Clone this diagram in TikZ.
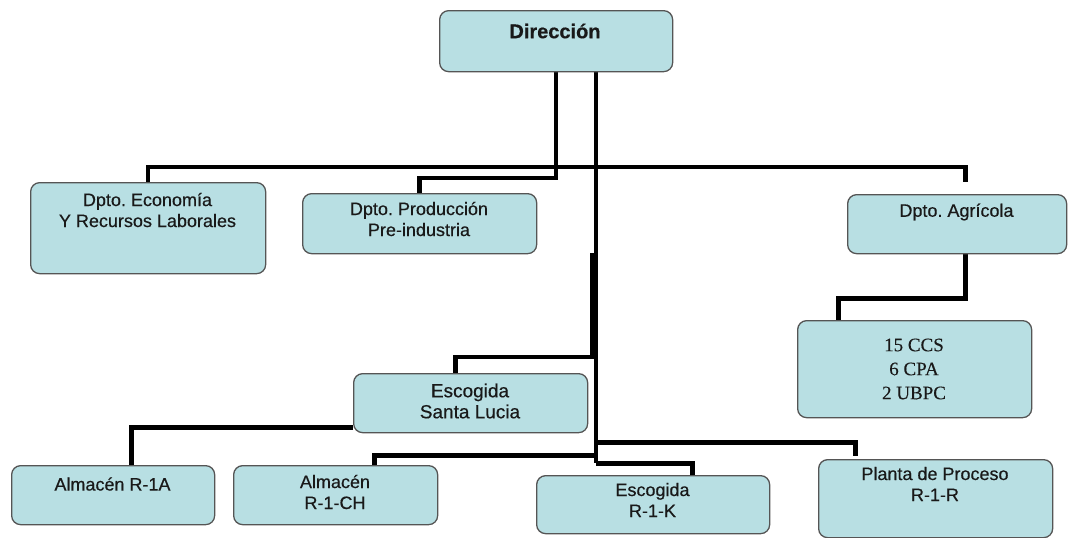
\documentclass[tikz,border=0pt]{standalone}
\usepackage{fontspec}
\setmainfont{Liberation Sans}[FakeBold=0.4]
\newfontfamily\serifcss{Liberation Serif}[FakeBold=0.3]
\usetikzlibrary{calc}
\pgfdeclarelayer{background}
\pgfsetlayers{background,main}
\definecolor{boxfill}{RGB}{184,223,227}
\definecolor{boxline}{RGB}{85,85,85}
\frenchspacing
\begin{document}
\begin{tikzpicture}[x=1pt,y=-1pt,
  bx/.style={draw=boxline, fill=boxfill, line width=1.3pt, rounded corners=9pt, inner sep=0pt, anchor=north west},
  tx/.style={align=center, font=\fontsize{18}{21}\selectfont, text=black!90, inner sep=0pt},
  conn/.style={line width=4.5pt, line join=miter, draw=black}]
\useasboundingbox (0,0) rectangle (1074,538);
% boxes
\node[bx, minimum width=233pt, minimum height=61pt] (dir) at (439,10) {};
\node[bx, minimum width=235pt, minimum height=91pt] (eco) at (30,182) {};
\node[bx, minimum width=234pt, minimum height=60pt] (prod) at (302,193) {};
\node[bx, minimum width=219pt, minimum height=59pt] (agr) at (847,194) {};
\node[bx, minimum width=234pt, minimum height=97pt] (ccs) at (797,320) {};
\node[bx, minimum width=234pt, minimum height=59pt] (sl) at (353,373) {};
\node[bx, minimum width=203pt, minimum height=59pt] (r1a) at (11,465) {};
\node[bx, minimum width=204pt, minimum height=59pt] (rch) at (233,465) {};
\node[bx, minimum width=233pt, minimum height=58pt] (rk) at (536,475) {};
\node[bx, minimum width=234pt, minimum height=78pt] (plan) at (818,459) {};
% texts
\node[tx, font=\fontsize{20}{22}\selectfont\bfseries] (dirt) at (555,31) {Dirección};
\node[tx] (ecot) at (147.5,210) {Dpto. Economía\\Y Recursos Laborales};
\node[tx] (prodt) at (419,219) {Dpto. Producción\\Pre-industria};
\node[tx] (agrt) at (956.5,212) {Dpto. Agrícola};
\node[tx, font=\fontsize{19}{24}\selectfont\serifcss] (ccst) at (914,369) {15 CCS\\6 CPA\\2 UBPC};
\node[tx, font=\fontsize{19}{21}\selectfont] (slt) at (470,401) {Escogida\\Santa Lucia};
\node[tx] (r1at) at (112.5,484) {Almacén R-1A};
\node[tx] (rcht) at (335,492) {Almacén\\R-1-CH};
\node[tx] (rkt) at (652.5,500) {Escogida\\R-1-K};
\node[tx] (plant) at (935,484) {Planta de Proceso\\R-1-R};
% connectors
\begin{pgfonlayer}{background}
\draw[conn] ($(dir.south west)+(117,0)$) |- ($(prod.north)+(0,-15)$) -- (prod.north);
\draw[conn] (eco.north) -- ($(eco.north)+(0,-15)$) -| ($(agr.north)+(8.5,-12)$);
\draw[conn] ($(dir.south west)+(157,0)$) -- ++(0,391) coordinate (tb);
\draw[conn] ($(dir.south west)+(157,370)$) -| ($(plan.north)+(-80,-3)$);
\draw[conn] (tb) -| ($(rk.north)+(39.5,0)$);
\draw[conn] ($(tb)+(0,-8)$) -| ($(rch.north)+(39,0)$);
\draw[conn] ($(dir.south west)+(153,181)$) |- ($(sl.north)+(-15,-16)$) -- ($(sl.north)+(-15,0)$);
\draw[conn] ($(sl.south west)+(0,-6)$) -| ($(r1a.north)+(18.5,0)$);
\draw[conn] ($(agr.south)+(8.5,0)$) -- ++(0,44) -| ($(ccs.north)+(-76,0)$);
\end{pgfonlayer}
\end{tikzpicture}
\end{document}
